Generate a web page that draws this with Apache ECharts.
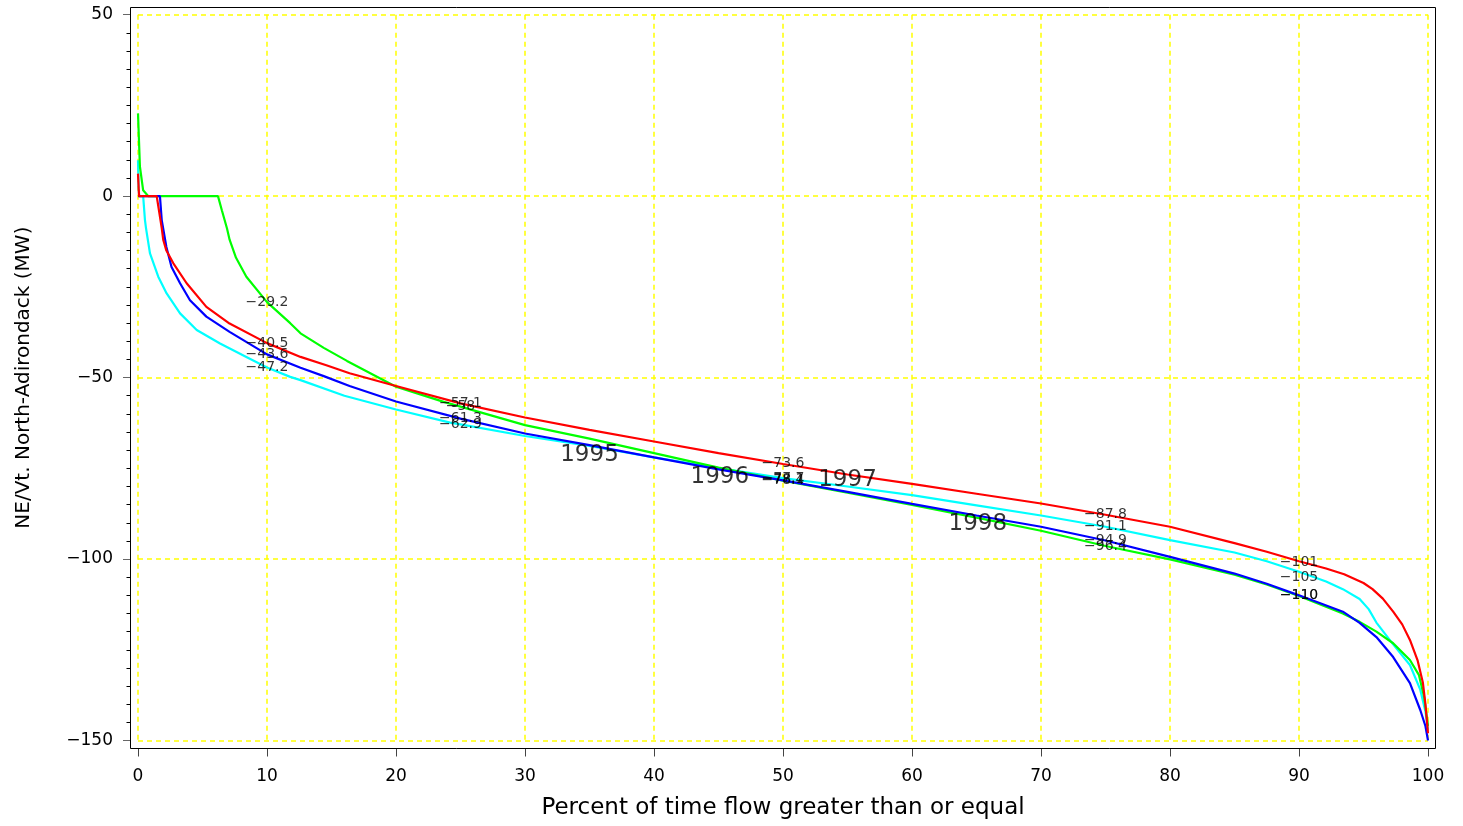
<!DOCTYPE html>
<html>
<head>
<meta charset="utf-8">
<script src="https://cdn.jsdelivr.net/npm/echarts@6/dist/echarts.min.js"></script>
<style>
html,body{margin:0;padding:0;background:#fff;}
#chart{width:1463px;height:826px;}
</style>
</head>
<body>
<div id="chart"></div>
<script>
// ---- data ----
const redX = [0,0.08,0.3,1.45,1.84,1.96,2.2,2.74,3.77,5.3,7.1,10,12.6,14.6,16.4,20,25,30,35,40,45,50,55,60,65,70,75,80,85,87.5,90,92.1,93.5,95,95.7,96.5,97.3,98,98.6,99.2,99.6,99.8,100];
const redY = [6.2,0,0,0,-8.8,-12.1,-15,-18.5,-24,-30.5,-35.1,-40.5,-44.3,-46.6,-48.8,-52.3,-57.1,-61,-64.4,-67.6,-70.8,-73.8,-76.7,-79.3,-82,-84.7,-87.8,-91.1,-95.6,-98,-100.6,-102.6,-104.2,-106.6,-108.3,-110.9,-114.5,-118,-122.3,-128,-134,-140,-148];

const blueX = [0,1.7,1.84,2.2,2.6,3.26,4.03,5.3,7.1,10,12.6,14.4,16.4,20,25,30,35,40,45,50,55,60,65,70,75,80,85,87.5,90,93.4,94.7,96,97.3,98.6,99.4,99.8,100];
const blueY = [0,0,-6.6,-14,-19.5,-24,-28.7,-33.2,-37.4,-43.6,-47.3,-49.6,-52.3,-56.6,-61.3,-65.4,-68.6,-72,-75.3,-78.3,-81.5,-84.8,-88,-91.1,-94.9,-99.4,-104,-106.8,-110,-114.5,-117.6,-121.5,-127,-134.2,-141.6,-146,-150];

const greenX = [0,0.15,0.4,0.8,6.2,6.5,6.9,7.1,7.6,8.4,10,11.8,12.6,14.4,16.2,20,23.7,25,30,35,40,45,50,55,60,65,70,75,80,85,87.5,90,93.4,94.7,96,97.3,98.6,99.3,99.7,100];
const greenY = [22.8,8.1,1.6,0,0,-3.9,-8.9,-12,-17,-22.2,-29.2,-35,-37.8,-41.8,-45.4,-52.5,-56.7,-58,-63.1,-66.8,-70.8,-74.8,-78.4,-81.7,-85.1,-88.6,-92.2,-96.4,-100.1,-104.3,-107,-110.2,-115,-117.3,-120,-123.2,-127.8,-132,-138,-146];

const cyanX = [0,0.05,0.1,0.4,0.54,0.62,0.93,1.57,2.22,3.26,4.55,6.36,8.4,10,11.8,12.6,16,20,24.2,25,30,35,40,45,50,55,60,65,70,75,80,85,87.5,90,92.1,93.4,94.7,95.4,96,97.3,98.6,99.4,99.8,100];
const cyanY = [9.9,2,0,0,-6.6,-8.8,-15.8,-22.2,-26.8,-32.3,-36.9,-40.6,-44.3,-47.2,-49.8,-50.7,-55,-58.8,-62.4,-62.9,-66.1,-68.8,-72,-74.9,-77.7,-80,-82.4,-85.2,-88,-91.1,-94.8,-98.2,-100.6,-103.5,-106.2,-108.3,-111,-113.8,-117.5,-123.5,-129.2,-136,-142,-147];

// value labels at selected percentiles
const labelPct = [10,25,50,75,90];
const redLab   = [-40.5,-57.1,-73.6,-87.8,-101];
const greenLab = [-29.2,-58,-78.4,-96.4,-110];
const blueLab  = [-43.6,-61.3,-78.1,-94.9,-110];
const cyanLab  = [-47.2,-62.9,-77.7,-91.1,-105];

// year annotations
const yearNames = ['1995','1996','1997','1998'];
const yearX = [35,45.1,55,65.1];
const yearY = [-71.3,-77.4,-78.2,-90.4];

// axis ticks
const xTickInterval = 10;
const yTickInterval = 50;

// ---- chart ----
const FONT = 'DejaVu Sans';
const minus = s => String(s).replace('-', '\u2212');
const fmtVal = v => minus(String(Number(v.toPrecision(3))));
const zip = (xs, ys) => xs.map((x,i)=>[x, ys[i]]);

function lineSeries(name, xs, ys, color) {
  return {
    name, type:'line', data: zip(xs, ys), showSymbol:false, symbol:'none',
    lineStyle:{color, width:2.2}, itemStyle:{color}, z:3, animation:false
  };
}
function labelSeries(name, vals) {
  return {
    name, type:'scatter', data: labelPct.map((p,i)=>[p, vals[i]]),
    symbolSize:0.1, itemStyle:{color:'rgba(0,0,0,0)'}, z:5, animation:false, silent:true,
    label:{show:true, position:'inside', formatter: p => fmtVal(p.value[1]),
      color:'#000', fontFamily:FONT, fontSize:14}
  };
}

const chart = echarts.init(document.getElementById('chart'), null, {renderer:'canvas'});
chart.setOption({
  backgroundColor:'#fff',
  animation:false,
  grid:{left:138, right:35, top:14.7, bottom:85.5, containLabel:false},
  xAxis:{
    type:'value', min:0, max:100, interval:xTickInterval, offset:8,
    name:'Percent of time flow greater than or equal', nameLocation:'middle', nameGap:48,
    nameTextStyle:{fontFamily:FONT, fontSize:23, color:'#000'},
    axisLine:{show:false, onZero:false},
    axisTick:{show:true, length:8, lineStyle:{color:'#444', width:1}},
    axisLabel:{margin:20, fontFamily:FONT, fontSize:17, color:'#000', formatter:v=>minus(v)},
    splitLine:{show:true, lineStyle:{color:'#ffff00', type:[5,4], width:1.5}}
  },
  yAxis:{
    type:'value', min:-150, max:50, interval:yTickInterval, offset:8,
    name:'NE/Vt. North-Adirondack (MW)', nameLocation:'middle', nameGap:96, nameRotate:90,
    nameTextStyle:{fontFamily:FONT, fontSize:20, color:'#000'},
    axisLine:{show:false, onZero:false},
    axisTick:{show:true, length:7, lineStyle:{color:'#666', width:1}},
    minorTick:{show:true, splitNumber:10, length:3.5, lineStyle:{color:'#000', width:1}},
    axisLabel:{margin:17, fontFamily:FONT, fontSize:17, color:'#000', formatter:v=>minus(v)},
    splitLine:{show:true, lineStyle:{color:'#ffff00', type:[5,4], width:1.5}}
  },
  graphic:[{
    type:'rect', z:100, silent:true,
    shape:{x:130.5, y:7.5, width:1305, height:741},
    style:{fill:null, stroke:'#000', lineWidth:1}
  }],
  series:[
    lineSeries('Cyan', cyanX, cyanY, '#00ffff'),
    lineSeries('Green', greenX, greenY, '#00ff00'),
    lineSeries('Blue', blueX, blueY, '#0000ff'),
    lineSeries('Red', redX, redY, '#ff0000'),
    labelSeries('Green labels', greenLab),
    labelSeries('Red labels', redLab),
    labelSeries('Blue labels', blueLab),
    labelSeries('Cyan labels', cyanLab),
    {
      name:'Years', type:'scatter', data: yearNames.map((n,i)=>({name:n, value:[yearX[i], yearY[i]]})),
      symbolSize:0.1, itemStyle:{color:'rgba(0,0,0,0)'}, z:6, silent:true, animation:false,
      label:{show:true, position:'inside', formatter:p=>p.name, color:'#000', fontFamily:FONT, fontSize:23}
    }
  ]
});
</script>
</body>
</html>
